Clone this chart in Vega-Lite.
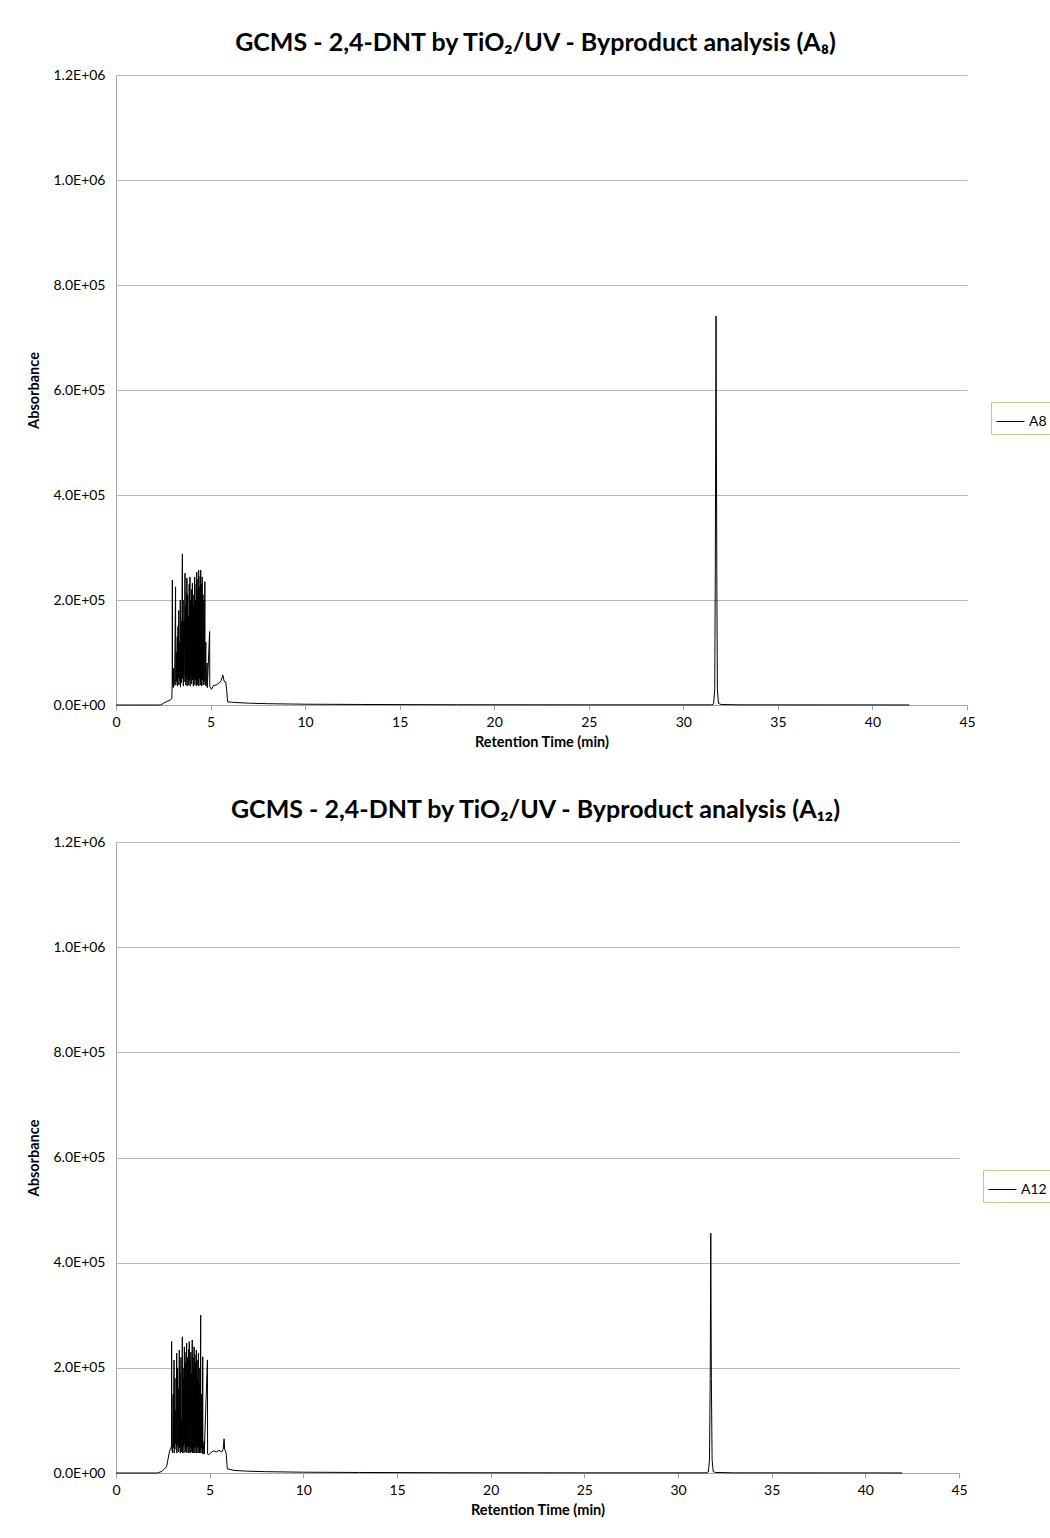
{
 "$schema": "https://vega.github.io/schema/vega-lite/v6.json",
 "background": "white",
 "padding": {"left": 26, "top": 31, "right": 0, "bottom": 5},
 "spacing": 49,
 "config": {
  "font": "Lato",
  "view": {"stroke": null},
  "title": {"fontSize": 25, "fontWeight": "bold", "color": "#000000", "anchor": "middle", "offset": 12, "font": "Lato"},
  "axis": {"labelFont": "Lato", "labelFontSize": 14, "labelColor": "#000000", "titleFont": "Lato", "titleFontSize": 14.5, "titleFontWeight": "bold", "titleColor": "#000000", "gridColor": "#b9b9b9", "domainColor": "#a6a6a6", "tickColor": "#a6a6a6", "tickSize": 5, "labelFlush": false}
 },
 "resolve": {"scale": {"color": "independent"}, "legend": {"color": "independent"}},
 "datasets": {
  "a8": [
   {"t": 0, "v": 0, "series": "A8"}, {"t": 1.0, "v": 0, "series": "A8"}, {"t": 2.0, "v": 0, "series": "A8"}, {"t": 2.35, "v": 0, "series": "A8"},
   {"t": 2.5, "v": 3000, "series": "A8"}, {"t": 2.7, "v": 7000, "series": "A8"}, {"t": 2.9, "v": 10000, "series": "A8"}, {"t": 2.95, "v": 12000, "series": "A8"},
   {"t": 2.97, "v": 38000, "series": "A8"}, {"t": 2.98, "v": 238000, "series": "A8"}, {"t": 2.99, "v": 40000, "series": "A8"}, {"t": 3.03, "v": 33000, "series": "A8"},
   {"t": 3.05, "v": 70000, "series": "A8"}, {"t": 3.06, "v": 36000, "series": "A8"}, {"t": 3.10, "v": 48000, "series": "A8"}, {"t": 3.15, "v": 225000, "series": "A8"},
   {"t": 3.16, "v": 38000, "series": "A8"}, {"t": 3.19, "v": 100000, "series": "A8"}, {"t": 3.20, "v": 45000, "series": "A8"}, {"t": 3.24, "v": 130000, "series": "A8"},
   {"t": 3.25, "v": 36000, "series": "A8"}, {"t": 3.28, "v": 150000, "series": "A8"}, {"t": 3.29, "v": 52000, "series": "A8"}, {"t": 3.32, "v": 180000, "series": "A8"},
   {"t": 3.33, "v": 38000, "series": "A8"}, {"t": 3.36, "v": 120000, "series": "A8"}, {"t": 3.37, "v": 48000, "series": "A8"}, {"t": 3.40, "v": 200000, "series": "A8"},
   {"t": 3.41, "v": 34000, "series": "A8"}, {"t": 3.45, "v": 160000, "series": "A8"}, {"t": 3.46, "v": 42000, "series": "A8"}, {"t": 3.51, "v": 288000, "series": "A8"},
   {"t": 3.52, "v": 50000, "series": "A8"}, {"t": 3.55, "v": 200000, "series": "A8"}, {"t": 3.56, "v": 36000, "series": "A8"}, {"t": 3.59, "v": 160000, "series": "A8"},
   {"t": 3.60, "v": 44000, "series": "A8"}, {"t": 3.65, "v": 251000, "series": "A8"}, {"t": 3.66, "v": 55000, "series": "A8"}, {"t": 3.68, "v": 190000, "series": "A8"},
   {"t": 3.69, "v": 38000, "series": "A8"}, {"t": 3.72, "v": 215000, "series": "A8"}, {"t": 3.73, "v": 48000, "series": "A8"}, {"t": 3.75, "v": 242000, "series": "A8"},
   {"t": 3.76, "v": 36000, "series": "A8"}, {"t": 3.79, "v": 210000, "series": "A8"}, {"t": 3.80, "v": 52000, "series": "A8"}, {"t": 3.83, "v": 170000, "series": "A8"},
   {"t": 3.84, "v": 38000, "series": "A8"}, {"t": 3.87, "v": 230000, "series": "A8"}, {"t": 3.88, "v": 47000, "series": "A8"}, {"t": 3.91, "v": 244000, "series": "A8"},
   {"t": 3.92, "v": 36000, "series": "A8"}, {"t": 3.95, "v": 200000, "series": "A8"}, {"t": 3.96, "v": 55000, "series": "A8"}, {"t": 3.99, "v": 220000, "series": "A8"},
   {"t": 4.00, "v": 40000, "series": "A8"}, {"t": 4.04, "v": 232000, "series": "A8"}, {"t": 4.05, "v": 48000, "series": "A8"}, {"t": 4.08, "v": 190000, "series": "A8"},
   {"t": 4.09, "v": 36000, "series": "A8"}, {"t": 4.12, "v": 210000, "series": "A8"}, {"t": 4.13, "v": 52000, "series": "A8"}, {"t": 4.16, "v": 244000, "series": "A8"},
   {"t": 4.17, "v": 38000, "series": "A8"}, {"t": 4.20, "v": 200000, "series": "A8"}, {"t": 4.21, "v": 48000, "series": "A8"}, {"t": 4.24, "v": 230000, "series": "A8"},
   {"t": 4.25, "v": 36000, "series": "A8"}, {"t": 4.27, "v": 253000, "series": "A8"}, {"t": 4.28, "v": 50000, "series": "A8"}, {"t": 4.31, "v": 220000, "series": "A8"},
   {"t": 4.32, "v": 38000, "series": "A8"}, {"t": 4.34, "v": 240000, "series": "A8"}, {"t": 4.35, "v": 46000, "series": "A8"}, {"t": 4.37, "v": 257000, "series": "A8"},
   {"t": 4.38, "v": 36000, "series": "A8"}, {"t": 4.41, "v": 225000, "series": "A8"}, {"t": 4.42, "v": 50000, "series": "A8"}, {"t": 4.45, "v": 245000, "series": "A8"},
   {"t": 4.46, "v": 38000, "series": "A8"}, {"t": 4.48, "v": 257000, "series": "A8"}, {"t": 4.49, "v": 44000, "series": "A8"}, {"t": 4.52, "v": 230000, "series": "A8"},
   {"t": 4.53, "v": 36000, "series": "A8"}, {"t": 4.56, "v": 244000, "series": "A8"}, {"t": 4.57, "v": 48000, "series": "A8"}, {"t": 4.60, "v": 210000, "series": "A8"},
   {"t": 4.61, "v": 38000, "series": "A8"}, {"t": 4.65, "v": 200000, "series": "A8"}, {"t": 4.66, "v": 44000, "series": "A8"}, {"t": 4.70, "v": 235000, "series": "A8"},
   {"t": 4.71, "v": 38000, "series": "A8"}, {"t": 4.75, "v": 120000, "series": "A8"}, {"t": 4.76, "v": 36000, "series": "A8"}, {"t": 4.82, "v": 80000, "series": "A8"},
   {"t": 4.83, "v": 33000, "series": "A8"}, {"t": 4.95, "v": 140000, "series": "A8"}, {"t": 4.96, "v": 35000, "series": "A8"}, {"t": 5.05, "v": 30000, "series": "A8"},
   {"t": 5.15, "v": 37000, "series": "A8"}, {"t": 5.3, "v": 38000, "series": "A8"}, {"t": 5.45, "v": 42000, "series": "A8"}, {"t": 5.55, "v": 45000, "series": "A8"},
   {"t": 5.65, "v": 57000, "series": "A8"}, {"t": 5.72, "v": 45000, "series": "A8"}, {"t": 5.8, "v": 44000, "series": "A8"}, {"t": 5.85, "v": 30000, "series": "A8"},
   {"t": 5.9, "v": 6000, "series": "A8"}, {"t": 6.2, "v": 5000, "series": "A8"}, {"t": 7, "v": 3500, "series": "A8"}, {"t": 8, "v": 2500, "series": "A8"},
   {"t": 10, "v": 1500, "series": "A8"}, {"t": 13, "v": 1000, "series": "A8"}, {"t": 18, "v": 500, "series": "A8"}, {"t": 25, "v": 300, "series": "A8"},
   {"t": 31.5, "v": 300, "series": "A8"}, {"t": 31.6, "v": 2000, "series": "A8"}, {"t": 31.66, "v": 30000, "series": "A8"}, {"t": 31.69, "v": 250000, "series": "A8"},
   {"t": 31.73, "v": 741000, "series": "A8"}, {"t": 31.77, "v": 250000, "series": "A8"}, {"t": 31.80, "v": 30000, "series": "A8"}, {"t": 31.86, "v": 3000, "series": "A8"},
   {"t": 32.0, "v": 1000, "series": "A8"}, {"t": 33, "v": 300, "series": "A8"}, {"t": 41.95, "v": 100, "series": "A8"}
  ],
  "a12": [
   {"t": 0, "v": 0, "series": "A12"}, {"t": 2.2, "v": 0, "series": "A12"}, {"t": 2.45, "v": 3000, "series": "A12"}, {"t": 2.7, "v": 12000, "series": "A12"},
   {"t": 2.85, "v": 40000, "series": "A12"}, {"t": 2.9, "v": 45000, "series": "A12"}, {"t": 2.96, "v": 50000, "series": "A12"}, {"t": 2.97, "v": 250000, "series": "A12"},
   {"t": 2.98, "v": 45000, "series": "A12"}, {"t": 3.02, "v": 38000, "series": "A12"}, {"t": 3.05, "v": 150000, "series": "A12"}, {"t": 3.06, "v": 48000, "series": "A12"},
   {"t": 3.10, "v": 215000, "series": "A12"}, {"t": 3.11, "v": 38000, "series": "A12"}, {"t": 3.15, "v": 180000, "series": "A12"}, {"t": 3.16, "v": 55000, "series": "A12"},
   {"t": 3.20, "v": 120000, "series": "A12"}, {"t": 3.21, "v": 45000, "series": "A12"}, {"t": 3.24, "v": 228000, "series": "A12"}, {"t": 3.25, "v": 38000, "series": "A12"},
   {"t": 3.29, "v": 200000, "series": "A12"}, {"t": 3.30, "v": 52000, "series": "A12"}, {"t": 3.33, "v": 160000, "series": "A12"}, {"t": 3.34, "v": 40000, "series": "A12"},
   {"t": 3.38, "v": 234000, "series": "A12"}, {"t": 3.39, "v": 48000, "series": "A12"}, {"t": 3.42, "v": 190000, "series": "A12"}, {"t": 3.43, "v": 38000, "series": "A12"},
   {"t": 3.47, "v": 220000, "series": "A12"}, {"t": 3.48, "v": 50000, "series": "A12"}, {"t": 3.50, "v": 100000, "series": "A12"}, {"t": 3.51, "v": 40000, "series": "A12"},
   {"t": 3.54, "v": 259000, "series": "A12"}, {"t": 3.55, "v": 38000, "series": "A12"}, {"t": 3.58, "v": 200000, "series": "A12"}, {"t": 3.59, "v": 50000, "series": "A12"},
   {"t": 3.62, "v": 180000, "series": "A12"}, {"t": 3.63, "v": 38000, "series": "A12"}, {"t": 3.65, "v": 240000, "series": "A12"}, {"t": 3.66, "v": 55000, "series": "A12"},
   {"t": 3.70, "v": 210000, "series": "A12"}, {"t": 3.71, "v": 40000, "series": "A12"}, {"t": 3.74, "v": 230000, "series": "A12"}, {"t": 3.75, "v": 48000, "series": "A12"},
   {"t": 3.77, "v": 247000, "series": "A12"}, {"t": 3.78, "v": 38000, "series": "A12"}, {"t": 3.81, "v": 220000, "series": "A12"}, {"t": 3.82, "v": 50000, "series": "A12"},
   {"t": 3.85, "v": 200000, "series": "A12"}, {"t": 3.86, "v": 40000, "series": "A12"}, {"t": 3.88, "v": 235000, "series": "A12"}, {"t": 3.89, "v": 38000, "series": "A12"},
   {"t": 3.91, "v": 250000, "series": "A12"}, {"t": 3.92, "v": 50000, "series": "A12"}, {"t": 3.95, "v": 215000, "series": "A12"}, {"t": 3.96, "v": 38000, "series": "A12"},
   {"t": 4.00, "v": 230000, "series": "A12"}, {"t": 4.01, "v": 48000, "series": "A12"}, {"t": 4.04, "v": 190000, "series": "A12"}, {"t": 4.05, "v": 40000, "series": "A12"},
   {"t": 4.07, "v": 253000, "series": "A12"}, {"t": 4.08, "v": 38000, "series": "A12"}, {"t": 4.11, "v": 220000, "series": "A12"}, {"t": 4.12, "v": 52000, "series": "A12"},
   {"t": 4.14, "v": 200000, "series": "A12"}, {"t": 4.15, "v": 38000, "series": "A12"}, {"t": 4.17, "v": 240000, "series": "A12"}, {"t": 4.18, "v": 48000, "series": "A12"},
   {"t": 4.21, "v": 225000, "series": "A12"}, {"t": 4.22, "v": 38000, "series": "A12"}, {"t": 4.25, "v": 210000, "series": "A12"}, {"t": 4.26, "v": 50000, "series": "A12"},
   {"t": 4.29, "v": 234000, "series": "A12"}, {"t": 4.30, "v": 38000, "series": "A12"}, {"t": 4.33, "v": 215000, "series": "A12"}, {"t": 4.34, "v": 48000, "series": "A12"},
   {"t": 4.37, "v": 180000, "series": "A12"}, {"t": 4.38, "v": 38000, "series": "A12"}, {"t": 4.40, "v": 228000, "series": "A12"}, {"t": 4.41, "v": 50000, "series": "A12"},
   {"t": 4.44, "v": 200000, "series": "A12"}, {"t": 4.45, "v": 38000, "series": "A12"}, {"t": 4.48, "v": 170000, "series": "A12"}, {"t": 4.49, "v": 44000, "series": "A12"},
   {"t": 4.52, "v": 300000, "series": "A12"}, {"t": 4.53, "v": 38000, "series": "A12"}, {"t": 4.56, "v": 150000, "series": "A12"}, {"t": 4.57, "v": 48000, "series": "A12"},
   {"t": 4.60, "v": 120000, "series": "A12"}, {"t": 4.61, "v": 38000, "series": "A12"}, {"t": 4.63, "v": 221000, "series": "A12"}, {"t": 4.64, "v": 36000, "series": "A12"},
   {"t": 4.70, "v": 60000, "series": "A12"}, {"t": 4.71, "v": 36000, "series": "A12"}, {"t": 4.88, "v": 215000, "series": "A12"}, {"t": 4.89, "v": 36000, "series": "A12"},
   {"t": 4.95, "v": 35000, "series": "A12"}, {"t": 5.05, "v": 38000, "series": "A12"}, {"t": 5.2, "v": 42000, "series": "A12"}, {"t": 5.35, "v": 40000, "series": "A12"},
   {"t": 5.5, "v": 43000, "series": "A12"}, {"t": 5.65, "v": 40000, "series": "A12"}, {"t": 5.72, "v": 45000, "series": "A12"}, {"t": 5.77, "v": 65000, "series": "A12"},
   {"t": 5.8, "v": 45000, "series": "A12"}, {"t": 5.88, "v": 38000, "series": "A12"}, {"t": 5.94, "v": 8000, "series": "A12"}, {"t": 6.3, "v": 5000, "series": "A12"},
   {"t": 7, "v": 3500, "series": "A12"}, {"t": 8, "v": 2500, "series": "A12"}, {"t": 10, "v": 1500, "series": "A12"}, {"t": 13, "v": 1000, "series": "A12"},
   {"t": 18, "v": 500, "series": "A12"}, {"t": 25, "v": 300, "series": "A12"}, {"t": 31.5, "v": 300, "series": "A12"}, {"t": 31.62, "v": 2000, "series": "A12"},
   {"t": 31.68, "v": 25000, "series": "A12"}, {"t": 31.72, "v": 180000, "series": "A12"}, {"t": 31.75, "v": 456000, "series": "A12"}, {"t": 31.78, "v": 180000, "series": "A12"},
   {"t": 31.82, "v": 25000, "series": "A12"}, {"t": 31.88, "v": 2500, "series": "A12"}, {"t": 32.0, "v": 1000, "series": "A12"}, {"t": 33, "v": 300, "series": "A12"},
   {"t": 41.97, "v": 100, "series": "A12"}
  ]
 },
 "vconcat": [
  {
   "title": {"text": "GCMS - 2,4-DNT by TiO₂/UV - Byproduct analysis (A₈)", "dx": -6},
   "width": 851,
   "height": 630,
   "data": {"name": "a8"},
   "mark": {"type": "line", "strokeWidth": 1},
   "encoding": {
    "x": {"field": "t", "type": "quantitative", "scale": {"domain": [0, 45], "nice": false, "zero": false}, "axis": {"values": [0, 5, 10, 15, 20, 25, 30, 35, 40, 45], "grid": false, "title": "Retention Time (min)", "labelPadding": 5, "titlePadding": 6}},
    "y": {"field": "v", "type": "quantitative", "scale": {"domain": [0, 1200000], "nice": false}, "axis": {"values": [0, 200000, 400000, 600000, 800000, 1000000, 1200000], "grid": true, "ticks": false, "title": "Absorbance", "labelPadding": 11, "titlePadding": 12, "labelExpr": "datum.value >= 1000000 ? format(datum.value / 1000000, '.1f') + 'E+06' : datum.value > 0 ? format(datum.value / 100000, '.1f') + 'E+05' : '0.0E+00'"}},
    "color": {"field": "series", "type": "nominal", "scale": {"range": ["#000000"]}, "legend": {"orient": "none", "legendX": 875, "legendY": 327, "title": null, "symbolType": "stroke", "symbolSize": 784, "symbolStrokeWidth": 1, "strokeColor": "#a8d98a", "fillColor": "#ffffff", "padding": 5, "labelFontSize": 14, "labelFont": "Lato", "labelColor": "#000000"}}
   }
  },
  {
   "title": {"text": "GCMS - 2,4-DNT by TiO₂/UV - Byproduct analysis (A₁₂)", "dx": -2},
   "width": 843,
   "height": 631,
   "data": {"name": "a12"},
   "mark": {"type": "line", "strokeWidth": 1},
   "encoding": {
    "x": {"field": "t", "type": "quantitative", "scale": {"domain": [0, 45], "nice": false, "zero": false}, "axis": {"values": [0, 5, 10, 15, 20, 25, 30, 35, 40, 45], "grid": false, "title": "Retention Time (min)", "labelPadding": 5, "titlePadding": 6}},
    "y": {"field": "v", "type": "quantitative", "scale": {"domain": [0, 1200000], "nice": false}, "axis": {"values": [0, 200000, 400000, 600000, 800000, 1000000, 1200000], "grid": true, "ticks": false, "title": "Absorbance", "labelPadding": 11, "titlePadding": 12, "labelExpr": "datum.value >= 1000000 ? format(datum.value / 1000000, '.1f') + 'E+06' : datum.value > 0 ? format(datum.value / 100000, '.1f') + 'E+05' : '0.0E+00'"}},
    "color": {"field": "series", "type": "nominal", "scale": {"range": ["#000000"]}, "legend": {"orient": "none", "legendX": 867, "legendY": 328, "title": null, "symbolType": "stroke", "symbolSize": 784, "symbolStrokeWidth": 1, "strokeColor": "#a8d98a", "fillColor": "#ffffff", "padding": 5, "labelFontSize": 14, "labelFont": "Lato", "labelColor": "#000000"}}
   }
  }
 ]
}
